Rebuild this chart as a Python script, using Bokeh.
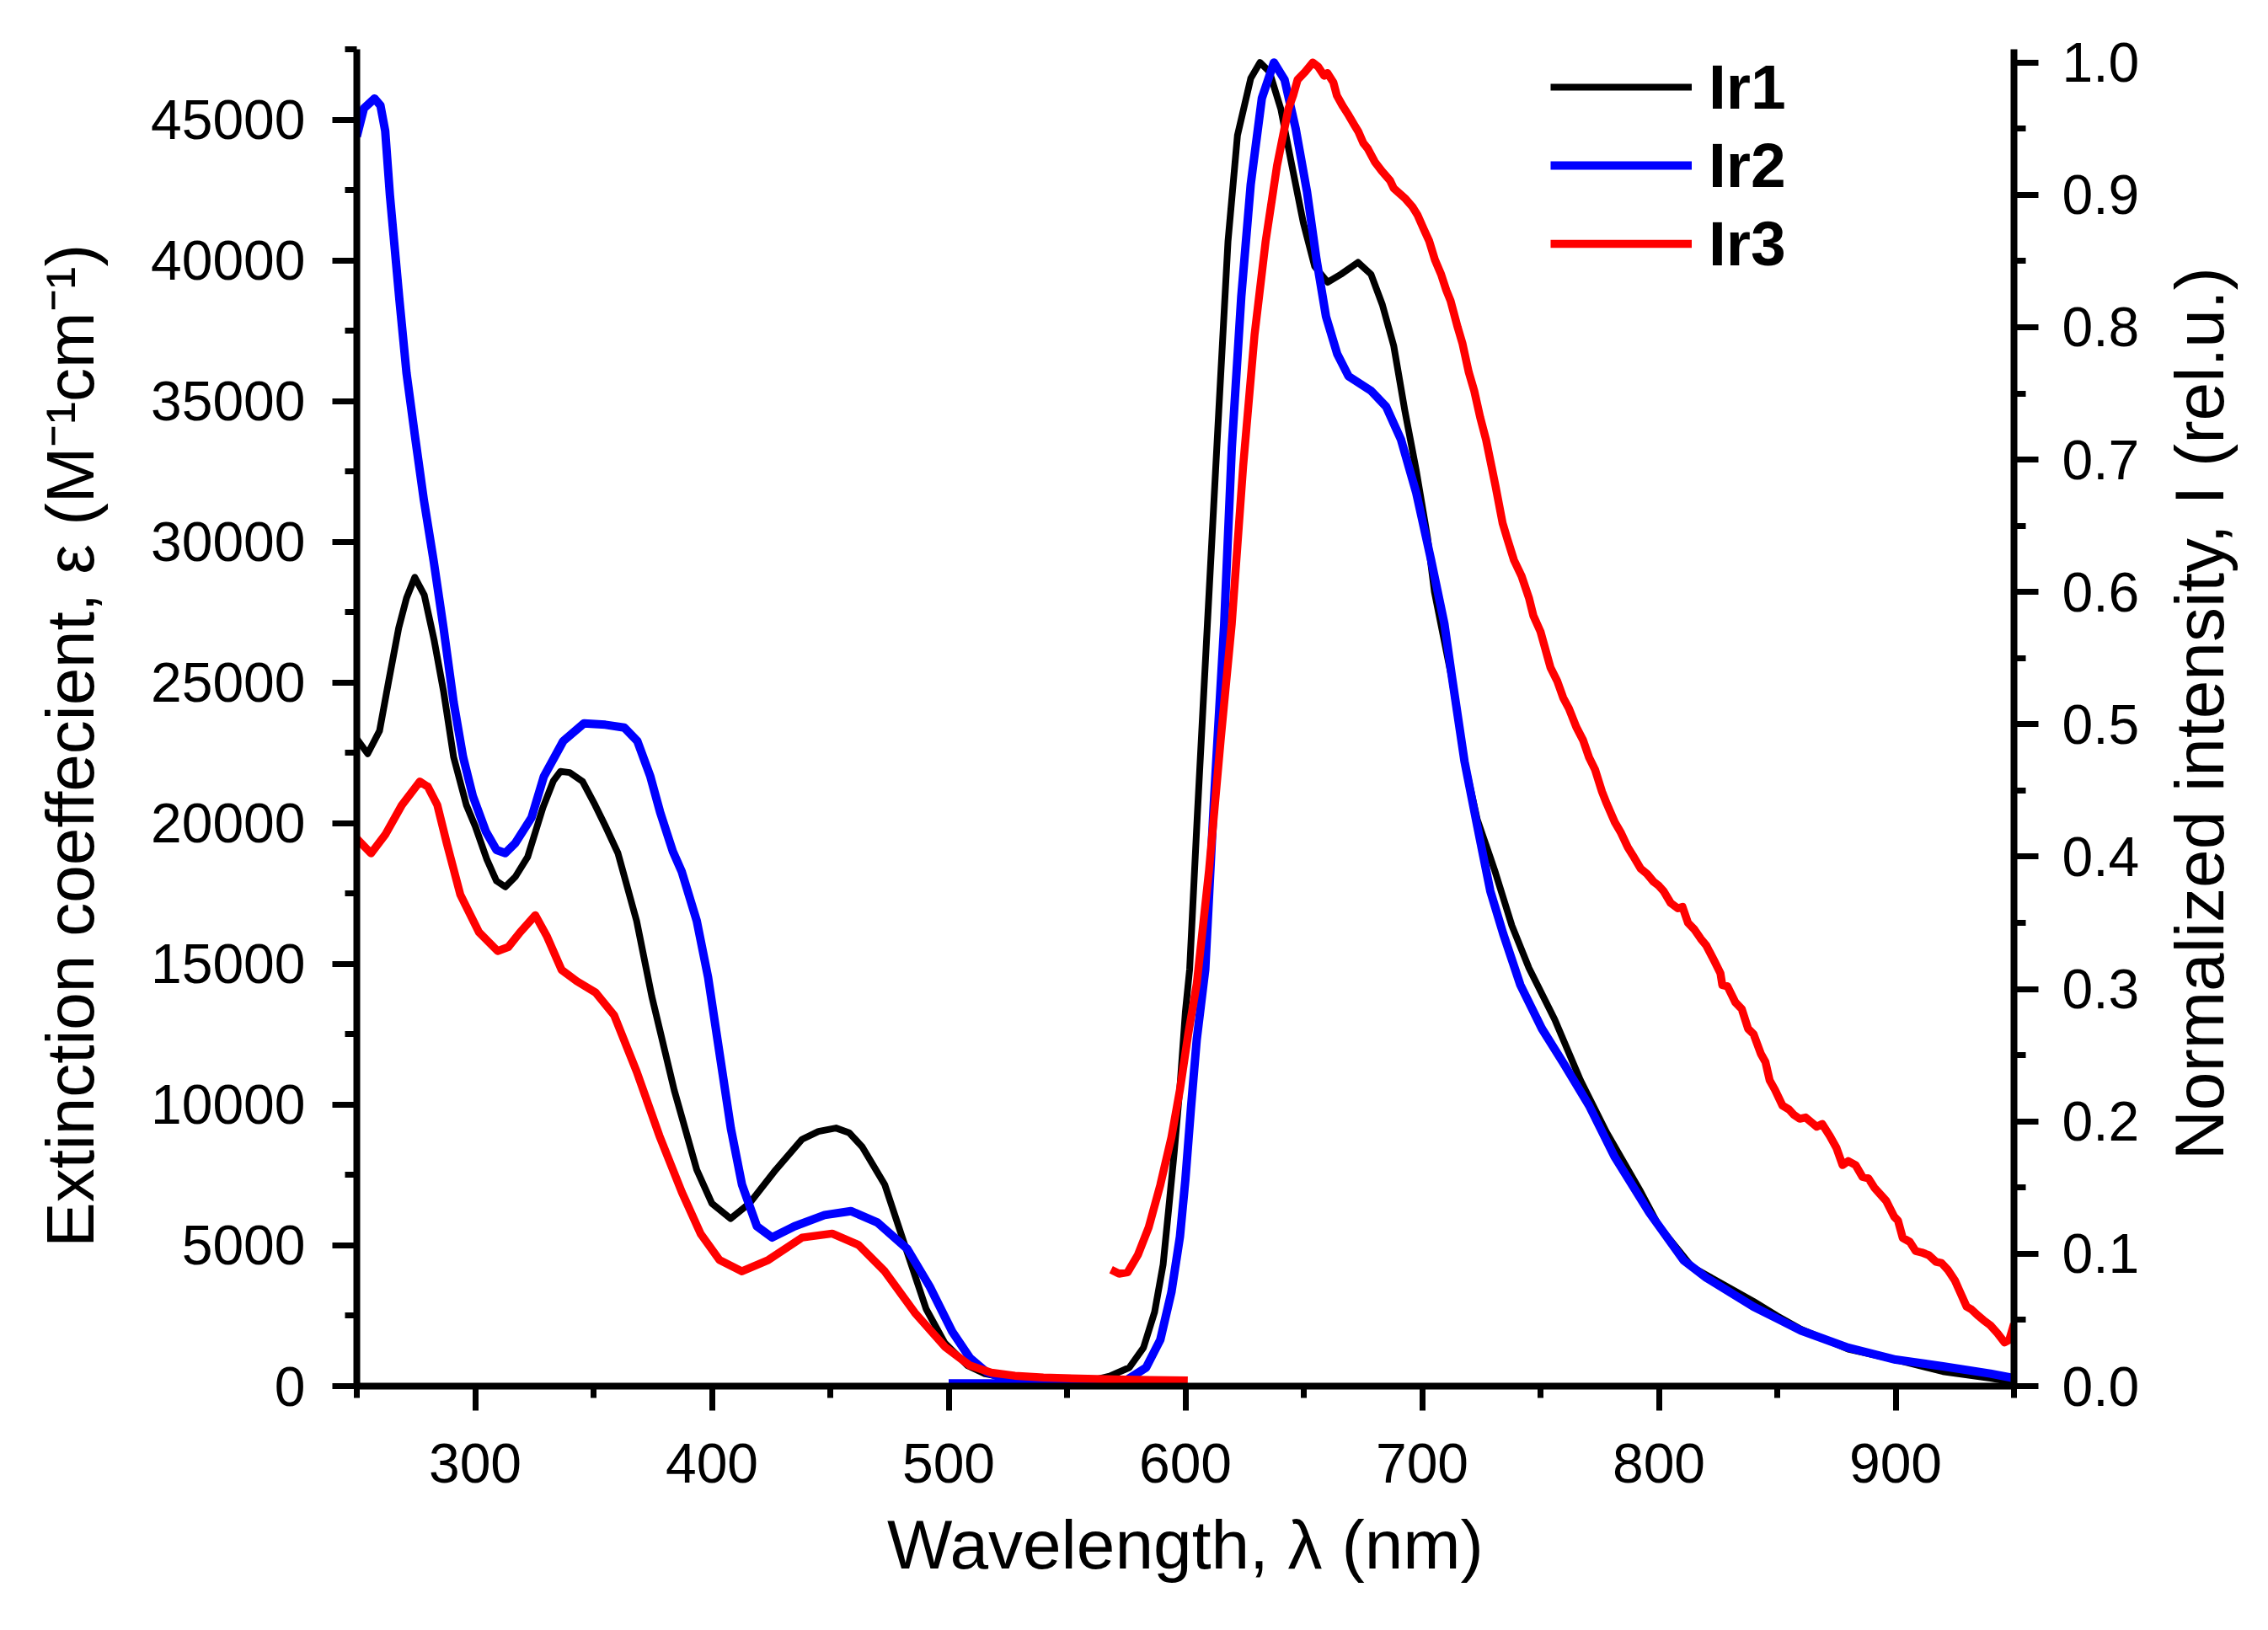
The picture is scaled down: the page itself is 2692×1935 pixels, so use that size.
import math
from bokeh.plotting import figure
from bokeh.layouts import row
from bokeh.models import (Range1d, LinearAxis, SingleIntervalTicker, PrintfTickFormatter,
                          BasicTickFormatter, Legend, LegendItem)
from bokeh.core.properties import value
from bokeh.embed import file_html
from bokeh.resources import INLINE

# ---------------- data ----------------
# Absorption: wavelength (nm) and extinction coefficient (M^-1 cm^-1)
ir1_abs_wl = [250, 254.6, 259.6, 263.6, 267.7, 271, 274.5, 278.5, 282.7, 286.7, 290.9, 296.3,
              300, 305, 309, 312.7, 317, 322.2, 328.6, 333, 336, 340, 345.4, 350.7, 355,
              360.3, 368.2, 374.6, 384.1, 393.6, 400, 407.9, 415.8, 427, 438.1, 445, 452.4,
              458, 463.5, 473, 482.5, 490.5, 498.4, 508, 515, 525, 535, 545, 555]
ir1_abs_eps = [23000, 22470, 23280, 25110, 26940, 28000, 28740, 28110, 26490, 24660, 22350, 20640,
               19900, 18700, 17950, 17740, 18100, 18810, 20550, 21500, 21840, 21800, 21480, 20640, 19900,
               18940, 16530, 13850, 10510, 7690, 6490, 5950, 6490, 7690, 8770, 9050, 9170,
               9000, 8500, 7160, 4750, 2740, 1530, 730, 450, 280, 190, 140, 110]

ir2_abs_wl = [250, 253, 257.5, 260, 262, 264, 268, 271, 274.5, 278.3, 282.5, 286.7, 290.9, 294.9,
              299, 304.5, 309, 312.7, 317, 323.8, 329, 337.2, 346, 355, 363, 368.5, 374, 378.1,
              383.5, 387.3, 393.6, 398.4, 403.2, 408, 412.7, 419, 425.4, 434.9, 447.6, 458.7,
              469.8, 482.5, 492, 501.5, 509, 516, 525, 535, 545]
ir2_abs_eps = [44400, 45400, 45750, 45500, 44600, 42300, 38600, 36000, 33800, 31500, 29300, 26900, 24300, 22350,
               20970, 19710, 19050, 18940, 19300, 20200, 21660, 22920, 23550, 23500, 23400, 22920, 21660, 20400,
               19000, 18270, 16530, 14520, 11840, 9160, 7160, 5680, 5280, 5680, 6080, 6220,
               5820, 4880, 3540, 1940, 1000, 500, 220, 90, 40]

ir3_abs_wl = [250, 256, 262, 269, 276.6, 280, 284, 288, 293.7, 301.6, 309.5, 314, 319, 325.4, 330.2,
              336.5, 342.9, 350.8, 358.7, 368.2, 377.8, 387.3, 395.2, 403.2, 412.7, 423.8, 438.1,
              450.8, 461.9, 473, 485.7, 498.4, 509, 518, 528, 540, 555, 570, 585, 601]
ir3_abs_eps = [19450, 18930, 19590, 20640, 21480, 21300, 20650, 19290, 17470, 16130, 15460, 15600, 16130, 16730, 16000,
               14790, 14390, 13990, 13180, 11180, 8900, 6890, 5420, 4480, 4080, 4480, 5280,
               5420, 5020, 4080, 2610, 1400, 730, 480, 370, 310, 270, 240, 220, 200]

# Emission: wavelength (nm) and normalized intensity
ir1_em_wl = [540, 560, 568, 576.3, 582.3, 587, 590.6, 593, 595.3, 597.7, 600, 601.8, 605, 609.3,
             614.1, 618, 622, 627.6, 631.5, 635.5, 640.3, 645, 649.8, 654.6, 660.1, 665.7, 672.9,
             678.4, 683.2, 688, 692.7, 697.5, 702.3, 705.2, 712.5, 717.9, 723.3, 730.6, 737.9,
             745.1, 756, 766.9, 777.8, 792.3, 800, 814, 820, 840, 850, 860, 880, 900, 920, 940, 950]
ir1_em_int = [0.001, 0.004, 0.0076, 0.014, 0.029, 0.056, 0.092, 0.135, 0.177, 0.226, 0.283, 0.315, 0.43, 0.576,
              0.737, 0.865, 0.945, 0.988, 1.0, 0.993, 0.965, 0.922, 0.879, 0.846, 0.834, 0.840, 0.849,
              0.840, 0.817, 0.786, 0.737, 0.692, 0.641, 0.60, 0.535, 0.472, 0.428, 0.390, 0.348,
              0.316, 0.277, 0.231, 0.192, 0.147, 0.121, 0.090, 0.084, 0.064, 0.053, 0.043, 0.028, 0.020, 0.011, 0.006, 0.003]

ir2_em_wl = [500, 540, 560, 573.8, 583.4, 589.4, 594.1, 597.7, 600, 602.3, 604.8, 608.4, 612, 616.4,
             619.6, 623.6, 627.6, 632.3, 637.4, 641.9, 646.6, 651.4, 655.4, 659.4, 664.1, 668.9,
             678.4, 684.8, 691.1, 697.5, 703.8, 709.4, 712.5, 717.9, 723.3, 728.8, 734.2, 741.5,
             750.6, 759.7, 770.5, 781.4, 796, 810.5, 820, 840, 850, 860, 880, 900, 920, 940, 950]
ir2_em_int = [0.002, 0.002, 0.002, 0.003, 0.014, 0.035, 0.071, 0.113, 0.156, 0.209, 0.262, 0.315, 0.44, 0.576,
              0.709, 0.823, 0.908, 0.973, 1.0, 0.987, 0.950, 0.902, 0.851, 0.808, 0.780, 0.763,
              0.752, 0.740, 0.715, 0.675, 0.624, 0.576, 0.537, 0.472, 0.423, 0.374, 0.342, 0.303,
              0.270, 0.244, 0.212, 0.173, 0.131, 0.095, 0.082, 0.060, 0.051, 0.042, 0.029, 0.020, 0.015, 0.0095, 0.006]

ir3_em_wl = [568.6, 572, 575.6, 579.9, 584.5, 589.4, 594.1, 597.7, 601.2, 604.8, 610, 615, 619.6, 624.4,
             629.2, 633.9, 638.7, 643.5, 645.5, 647.4, 650.6, 653.8, 656, 658.6, 660, 662.5, 664, 666.5,
             669, 671.3, 673, 675.2, 677, 680, 683, 686.4, 688, 691.1, 693, 695.9, 698, 700.7, 703,
             705.4, 708, 710.2, 712, 715, 717, 719.7, 722, 724.5, 727, 729.3, 731, 734, 736, 738.8,
             742, 745.2, 747, 750, 754.2, 757, 759.6, 762, 765.1, 768, 770.5, 773, 776, 778, 781.4,
             784, 786.9, 789, 792.3, 795, 797.8, 800, 802, 805, 808, 810, 812.3, 815, 817.7, 820,
             823.2, 826, 826.8, 829, 832.3, 835, 837.7, 840, 843.1, 845, 846.8, 849, 852.2, 855, 857,
             859.5, 862, 866.7, 869, 872.2, 875, 877.6, 880, 883.1, 886, 888.5, 891, 894, 896, 899.4,
             901, 903, 906, 908.5, 911, 914, 917, 919.4, 922, 925, 927, 930, 932, 935, 937, 940, 943,
             946, 948, 950]
ir3_em_int = [0.088, 0.085, 0.086, 0.099, 0.12, 0.152, 0.188, 0.224, 0.266, 0.304, 0.39, 0.49, 0.576, 0.695,
              0.794, 0.865, 0.922, 0.965, 0.975, 0.987, 0.993, 1.0, 0.997, 0.990, 0.992, 0.985, 0.975, 0.967,
              0.960, 0.953, 0.948, 0.939, 0.935, 0.925, 0.918, 0.911, 0.905, 0.900, 0.897, 0.891, 0.885, 0.874, 0.865,
              0.851, 0.84, 0.828, 0.82, 0.800, 0.788, 0.766, 0.752, 0.732, 0.715, 0.695, 0.680, 0.652, 0.640, 0.624,
              0.612, 0.595, 0.582, 0.570, 0.543, 0.533, 0.520, 0.512, 0.498, 0.488, 0.475, 0.466, 0.449, 0.440, 0.426,
              0.418, 0.407, 0.401, 0.391, 0.387, 0.381, 0.378, 0.374, 0.365, 0.361, 0.362, 0.350, 0.345, 0.338, 0.333,
              0.322, 0.312, 0.303, 0.302, 0.290, 0.285, 0.270, 0.266, 0.251, 0.245, 0.231, 0.224, 0.212, 0.209, 0.205,
              0.202, 0.203, 0.196, 0.198, 0.189, 0.180, 0.167, 0.170, 0.167, 0.158, 0.157, 0.150, 0.144, 0.140, 0.128,
              0.125, 0.112, 0.109, 0.102, 0.101, 0.099, 0.094, 0.093, 0.088, 0.08, 0.072, 0.06, 0.058, 0.053, 0.05, 0.046, 0.04,
              0.033, 0.035, 0.047]

series_names = ["Ir1", "Ir2", "Ir3"]
series_colors = ["#000000", "#0000FF", "#FF0000"]
series_widths = [8, 10, 9.5]

x_range = (250, 950)
eps_range = (0, 47500)
int_range = (0, 1.01)

x_label = "Wavelength, λ (nm)"
y_label = "Extinction coeffecient, ε (M⁻¹cm⁻¹)"
y2_label = "Normalized intensity, I (rel.u.)"

FONT = "Liberation Sans"
H = 1927

# ---------------- main figure ----------------
p = figure(width=2560, height=H, output_backend="svg", toolbar_location=None,
           x_range=Range1d(*x_range), y_range=Range1d(*eps_range), title=None,
           min_border_left=423, min_border_right=170, min_border_top=58, min_border_bottom=282,
           x_axis_location=None, y_axis_location=None)
p.extra_y_ranges = {"emi": Range1d(*int_range)}
p.outline_line_color = None
p.background_fill_color = "white"
p.border_fill_color = "white"
p.xgrid.visible = False
p.ygrid.visible = False


def style_axis(ax):
    ax.axis_line_width = 8
    ax.axis_line_color = "black"
    ax.major_tick_line_width = 7
    ax.minor_tick_line_width = 7
    ax.major_tick_line_color = "black"
    ax.minor_tick_line_color = "black"
    ax.major_tick_out = 29
    ax.major_tick_in = 0
    ax.minor_tick_out = 14
    ax.minor_tick_in = 0
    ax.major_label_text_font = FONT
    ax.major_label_text_font_size = "66px"
    ax.major_label_text_color = "black"
    ax.major_label_standoff = 30
    ax.axis_label_text_font = FONT
    ax.axis_label_text_font_style = "normal"
    ax.axis_label_text_color = "black"


xaxis = LinearAxis(ticker=SingleIntervalTicker(interval=100, num_minor_ticks=2), axis_label=x_label)
style_axis(xaxis)
xaxis.axis_label_text_font_size = "82px"
xaxis.major_label_standoff = 39
xaxis.axis_label_standoff = 25
p.add_layout(xaxis, "below")

yaxis = LinearAxis(ticker=SingleIntervalTicker(interval=5000, num_minor_ticks=2),
                   formatter=BasicTickFormatter(use_scientific=False),
                   axis_label=y_label + "\u00a0" * 3)
style_axis(yaxis)
yaxis.axis_label_text_font_size = "80px"
yaxis.major_label_standoff = 32
yaxis.axis_label_standoff = 48
p.add_layout(yaxis, "left")

y2axis = LinearAxis(y_range_name="emi", ticker=SingleIntervalTicker(interval=0.1, num_minor_ticks=2),
                    formatter=PrintfTickFormatter(format="%.1f"))
style_axis(y2axis)
y2axis.major_label_standoff = 28
p.add_layout(y2axis, "right")

abs_data = [(ir1_abs_wl, ir1_abs_eps), (ir2_abs_wl, ir2_abs_eps), (ir3_abs_wl, ir3_abs_eps)]
em_data = [(ir1_em_wl, ir1_em_int), (ir2_em_wl, ir2_em_int), (ir3_em_wl, ir3_em_int)]

items = []
for name, col, lw, (aw, ae), (ew, ei) in zip(series_names, series_colors, series_widths, abs_data, em_data):
    p.line(aw, ae, line_color=col, line_width=lw, line_join="round")
    r = p.line(ew, ei, line_color=col, line_width=lw, line_join="round", y_range_name="emi")
    items.append(LegendItem(label=name, renderers=[r]))

legend = Legend(items=items, location=(1417, 1313))
legend.label_text_font = FONT
legend.label_text_font_size = "75px"
legend.label_text_font_style = "bold"
legend.label_text_color = "black"
legend.glyph_width = 168
legend.glyph_height = 40
legend.label_standoff = 20
legend.spacing = 7
legend.padding = 0
legend.margin = 0
legend.border_line_color = None
legend.background_fill_alpha = 0
p.add_layout(legend)

# ---------------- narrow strip holding the right-hand title (reads bottom-to-top) ----------------
p2 = figure(width=124, height=H, output_backend="svg", toolbar_location=None, title=None,
            x_range=Range1d(0, 1), y_range=Range1d(0, 1),
            min_border_left=0, min_border_right=0, min_border_top=0, min_border_bottom=0,
            x_axis_location=None, y_axis_location=None)
p2.outline_line_color = None
p2.xgrid.visible = False
p2.ygrid.visible = False
p2.background_fill_color = "white"
p2.border_fill_color = "white"
p2.text(x=[0.40], y=[0.503], text=[y2_label], angle=math.pi / 2,
        text_align="center", text_baseline="middle",
        text_font=value(FONT), text_font_size=value("82px"), text_color="black")

layout = row(p, p2, spacing=0)
open("out.html", "w").write(file_html(layout, INLINE))
